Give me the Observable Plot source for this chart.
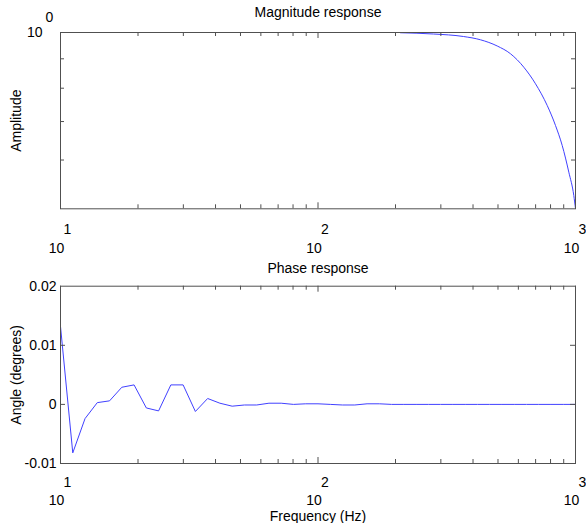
<!DOCTYPE html>
<html>
<head>
<meta charset="utf-8">
<script src="https://cdn.jsdelivr.net/npm/d3@7"></script>
<script src="https://cdn.jsdelivr.net/npm/@observablehq/plot@0.6"></script>
<style>
  html, body { margin: 0; padding: 0; background: white; }
  svg { display: block; }
</style>
</head>
<body>
<div id="chart"></div>
<script>
// ---- data ----
const phaseFreq = [10, 11.1594, 12.4534, 13.895, 15.506, 17.3036, 19.307, 21.5443, 24.0406, 26.827,
  29.9361, 33.4048, 37.2759, 41.596, 46.4159, 51.7947, 57.7969, 64.4946, 71.9686, 80.3085, 89.615,
  100, 111.594, 124.534, 138.95, 155.06, 173.036, 193.07, 215.443, 240.406, 268.27, 299.361,
  334.048, 372.759, 415.96, 464.159, 517.947, 577.969, 644.946, 719.686, 803.085, 896.15, 1000];
const phaseDeg = [0.0132, -0.0082, -0.0024, 0.0003, 0.0006, 0.0029, 0.0033, -0.0006, -0.0011, 0.0033,
  0.0033, -0.0012, 0.0010, 0.0002, -0.0003, -0.0001, -0.0001, 0.0002, 0.0002, 0.0000, 0.0001,
  0.0001, 0.0000, -0.0001, -0.0001, 0.0001, 0.0001, 0, 0, 0, 0, 0,
  0, 0, 0, 0, 0, 0, 0, 0, 0, 0, 0];

const magFreq = [209.1, 280.9, 367.3, 427.6, 496.6, 559.3, 629.9, 699.2, 776.5, 836.2, 887.8, 942.0, 984.9, 1000];
const magAmp  = [0.999, 0.9940, 0.9841, 0.9712, 0.9474, 0.9183, 0.8702, 0.8144, 0.7465, 0.6891, 0.6361, 0.5715, 0.5204, 0.4935];

const xMajor = [10, 100, 1000];
const xExponents = ["1", "2", "3"];
const xBase = "10";
const xMinor = [20, 30, 40, 50, 60, 70, 80, 90, 200, 300, 400, 500, 600, 700, 800, 900];

const magYMajor = [1];
const magYExponents = ["0"];
const magYMinor = [0.6, 0.7, 0.8, 0.9];

const phaseYTicks = [-0.01, 0, 0.01, 0.02];
const phaseYLabels = ["-0.01", "0", "0.01", "0.02"];

const titles = ["Magnitude response", "Phase response"];
const yLabels = ["Amplitude", "Angle (degrees)"];
const xLabel = "Frequency (Hz)";

// ---- styling ----
const W = 586;
const ML = 60, MR = 11;
const PW = W - ML - MR;
const axisColor = "#505050";
const lineColor = "#4040ff";
const font = "Liberation Sans, Arial, Helvetica, sans-serif";
const fs = 14;

function xAxisMarks(PH, dyExp, dyBase) {
  return [
    Plot.ruleX(xMinor, {x: d => d, stroke: axisColor, insetTop: PH - 4}),
    Plot.ruleX(xMinor, {x: d => d, stroke: axisColor, insetBottom: PH - 4}),
    Plot.ruleX(xMajor, {x: d => d, stroke: axisColor, insetTop: PH - 6}),
    Plot.ruleX(xMajor, {x: d => d, stroke: axisColor, insetBottom: PH - 6}),
    Plot.text(xMajor, {x: d => d, text: () => xBase, frameAnchor: "bottom", lineAnchor: "middle", textAnchor: "middle", dy: dyBase, dx: -4, fontSize: fs}),
    Plot.text(xMajor, {x: d => d, text: (d, i) => xExponents[i], frameAnchor: "bottom", lineAnchor: "middle", textAnchor: "middle", dy: dyExp, dx: 7, fontSize: fs})
  ];
}

// ---- top plot: magnitude ----
const H1 = 258, MT1 = 32, MB1 = H1 - 208.3;
const PH1 = H1 - MT1 - MB1;
const magData = magFreq.map((f, i) => ({f, a: magAmp[i]}));

const magChart = Plot.plot({
  width: W, height: H1,
  marginTop: MT1, marginBottom: MB1, marginLeft: ML, marginRight: MR,
  style: {fontFamily: font, fontSize: fs + "px", color: "black", background: "white"},
  x: {type: "log", domain: [10, 1000], axis: null},
  y: {type: "log", domain: [0.4935, 1], axis: null},
  marks: [
    Plot.lineY(magData, {x: "f", y: "a", stroke: lineColor, strokeWidth: 1, curve: "monotone-x", clip: true}),
    Plot.frame({stroke: axisColor}),
    ...xAxisMarks(PH1, 21, 40),
    Plot.ruleY(magYMinor, {y: d => d, stroke: axisColor, insetRight: PW - 4}),
    Plot.ruleY(magYMinor, {y: d => d, stroke: axisColor, insetLeft: PW - 4}),
    Plot.text(magYMajor, {y: d => d, text: () => xBase, frameAnchor: "left", lineAnchor: "middle", dx: -18, textAnchor: "end", fontSize: fs}),
    Plot.text(magYMajor, {y: d => d, text: (d, i) => magYExponents[i], frameAnchor: "left", lineAnchor: "middle", dx: -15, dy: -15, textAnchor: "start", fontSize: fs}),
    Plot.text([titles[0]], {text: d => d, frameAnchor: "top", lineAnchor: "middle", textAnchor: "middle", dy: -20, fontSize: fs}),
    Plot.text([yLabels[0]], {text: d => d, frameAnchor: "left", lineAnchor: "middle", textAnchor: "middle", dx: -44, rotate: -90, fontSize: fs})
  ]
});

// ---- bottom plot: phase ----
const OFF2 = 258;
const H2 = 523 - OFF2, MT2 = 285.7 - OFF2, MB2 = H2 - (463 - OFF2);
const PH2 = H2 - MT2 - MB2;
const phaseData = phaseFreq.map((f, i) => ({f, p: phaseDeg[i]}));

const phaseChart = Plot.plot({
  width: W, height: H2,
  marginTop: MT2, marginBottom: MB2, marginLeft: ML, marginRight: MR,
  style: {fontFamily: font, fontSize: fs + "px", color: "black", background: "white"},
  x: {type: "log", domain: [10, 1000], axis: null},
  y: {type: "linear", domain: [-0.01, 0.02], axis: null},
  marks: [
    Plot.lineY(phaseData, {x: "f", y: "p", stroke: lineColor, strokeWidth: 1, clip: true}),
    Plot.frame({stroke: axisColor}),
    ...xAxisMarks(PH2, 19, 37),
    Plot.ruleY([0, 0.01], {y: d => d, stroke: axisColor, insetRight: PW - 5}),
    Plot.ruleY([0, 0.01], {y: d => d, stroke: axisColor, insetLeft: PW - 5}),
    Plot.text(phaseYTicks, {y: d => d, text: (d, i) => phaseYLabels[i], frameAnchor: "left", lineAnchor: "middle", dx: -4, textAnchor: "end", fontSize: fs}),
    Plot.text([titles[1]], {text: d => d, frameAnchor: "top", lineAnchor: "middle", textAnchor: "middle", dy: -17.7, fontSize: fs}),
    Plot.text([yLabels[1]], {text: d => d, frameAnchor: "left", lineAnchor: "middle", textAnchor: "middle", dx: -44, rotate: -90, fontSize: fs}),
    Plot.text([xLabel], {text: d => d, frameAnchor: "bottom", lineAnchor: "middle", textAnchor: "middle", dy: 53, fontSize: fs})
  ]
});

const el = document.getElementById("chart");
el.appendChild(magChart);
el.appendChild(phaseChart);
</script>
</body>
</html>
